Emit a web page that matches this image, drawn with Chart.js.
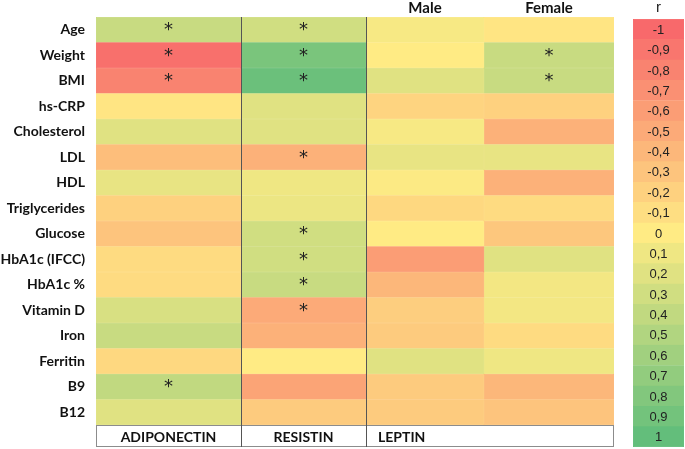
<!DOCTYPE html>
<html>
<head>
<meta charset="utf-8">
<script src="https://cdn.jsdelivr.net/npm/chart.js@4"></script>
<style>
  body { margin: 0; background: #fff; }
  #wrap { position: relative; width: 685px; height: 449px; }
  #heatBox { position: absolute; left: 0; top: 0; width: 622px; height: 449px; }
  #scaleBox { position: absolute; left: 622px; top: 0; width: 63px; height: 449px; }
</style>
</head>
<body>
<div id="wrap">
  <div id="heatBox"><canvas id="heatChart"></canvas></div>
  <div id="scaleBox"><canvas id="scaleChart"></canvas></div>
</div>
<script>
  // ----- data -----
  const rows = ['Age', 'Weight', 'BMI', 'hs-CRP', 'Cholesterol', 'LDL', 'HDL', 'Triglycerides',
    'Glucose', 'HbA1c (IFCC)', 'HbA1c %', 'Vitamin D', 'Iron', 'Ferritin', 'B9', 'B12'];

  const adiponectin = [0.35, -0.95, -0.8, -0.05, 0.2, -0.35, 0.15, -0.2, -0.3, -0.12, -0.12, 0.25, 0.35, -0.15, 0.4, 0.2];
  const resistin = [0.3, 0.85, 0.95, 0.2, 0.2, -0.45, 0.1, 0.12, 0.3, 0.3, 0.35, -0.5, -0.45, 0, -0.55, -0.25];
  const leptinMale = [0.05, 0, 0.2, -0.18, 0.05, 0.15, 0.02, -0.15, 0, -0.6, -0.4, -0.22, -0.25, 0.2, -0.25, -0.25];
  const leptinFemale = [-0.05, 0.35, 0.35, -0.2, -0.45, 0.15, -0.45, -0.12, -0.28, 0.2, 0.08, 0.08, -0.12, 0.1, -0.4, -0.3];

  // significant correlations (*)
  const adiponectinSig = [1, 1, 1, 0, 0, 0, 0, 0, 0, 0, 0, 0, 0, 0, 1, 0];
  const resistinSig = [1, 1, 1, 0, 0, 1, 0, 0, 1, 1, 1, 1, 0, 0, 0, 0];
  const leptinMaleSig = [0, 0, 0, 0, 0, 0, 0, 0, 0, 0, 0, 0, 0, 0, 0, 0];
  const leptinFemaleSig = [0, 1, 1, 0, 0, 0, 0, 0, 0, 0, 0, 0, 0, 0, 0, 0];

  const groupLabels = ['ADIPONECTIN', 'RESISTIN', 'LEPTIN'];
  const sexLabels = ['Male', 'Female'];

  const scaleLabels = ['-1', '-0,9', '-0,8', '-0,7', '-0,6', '-0,5', '-0,4', '-0,3', '-0,2', '-0,1', '0',
    '0,1', '0,2', '0,3', '0,4', '0,5', '0,6', '0,7', '0,8', '0,9', '1'];
  const scaleValues = [-1, -0.9, -0.8, -0.7, -0.6, -0.5, -0.4, -0.3, -0.2, -0.1, 0,
    0.1, 0.2, 0.3, 0.4, 0.5, 0.6, 0.7, 0.8, 0.9, 1];

  // ----- layout -----
  const colWidths = [145, 125, 118, 130];
  const colStarts = [0, 145, 270, 388];

  // red - yellow - green scale
  function rColor(v) {
    const mid = [255, 235, 132], end = v < 0 ? [248, 105, 107] : [99, 190, 123];
    const t = Math.min(1, Math.abs(v));
    const c = mid.map((x, i) => Math.round(x + (end[i] - x) * t));
    return 'rgb(' + c.join(',') + ')';
  }

  const series = [adiponectin, resistin, leptinMale, leptinFemale];
  const sigs = [adiponectinSig, resistinSig, leptinMaleSig, leptinFemaleSig];

  const datasets = series.map((vals, c) => ({
    data: vals.map(() => [colStarts[c], colStarts[c] + colWidths[c]]),
    backgroundColor: vals.map(rColor),
    borderColor: vals.map(rColor),
    borderWidth: 0.5,
    borderSkipped: false,
    barPercentage: 1,
    categoryPercentage: 1,
    grouped: false
  }));

  const boldFont = 'Lato, "Open Sans", sans-serif';

  const heatDecor = {
    id: 'heatDecor',
    afterDatasetsDraw(chart) {
      const { ctx, chartArea, scales } = chart;
      const x = scales.x, y = scales.y;
      ctx.save();
      // asterisks
      ctx.fillStyle = '#222';
      ctx.font = '18px "DejaVu Sans", sans-serif';
      ctx.textAlign = 'center';
      ctx.textBaseline = 'middle';
      sigs.forEach((sig, c) => {
        const cx = x.getPixelForValue(colStarts[c] + colWidths[c] / 2);
        sig.forEach((s, r) => {
          if (s) ctx.fillText('*', cx, y.getPixelForValue(r) + 1);
        });
      });
      // bottom box
      const boxTop = chartArea.bottom, boxBot = chartArea.bottom + 22;
      ctx.fillStyle = '#fff';
      ctx.fillRect(chartArea.left, boxTop, chartArea.right - chartArea.left, 22);
      ctx.strokeStyle = '#8c8c8c';
      ctx.lineWidth = 1;
      ctx.strokeRect(chartArea.left + 0.5, boxTop + 0.5, chartArea.right - chartArea.left - 1, 21);
      // group dividers
      ctx.strokeStyle = '#555';
      [1, 2].forEach(c => {
        const px = Math.round(x.getPixelForValue(colStarts[c])) + 0.5;
        ctx.beginPath();
        ctx.moveTo(px, chartArea.top);
        ctx.lineTo(px, boxBot);
        ctx.stroke();
      });
      // group labels
      ctx.fillStyle = '#111';
      ctx.font = 'bold 14px ' + boldFont;
      ctx.fillText(groupLabels[0], x.getPixelForValue(colStarts[0] + colWidths[0] / 2), boxTop + 12);
      ctx.fillText(groupLabels[1], x.getPixelForValue(colStarts[1] + colWidths[1] / 2), boxTop + 12);
      ctx.textAlign = 'left';
      ctx.fillText(groupLabels[2], x.getPixelForValue(colStarts[2]) + 12, boxTop + 12);
      // sex headers
      ctx.textAlign = 'center';
      ctx.font = 'bold 15px ' + boldFont;
      ctx.fillText(sexLabels[0], x.getPixelForValue(colStarts[2] + colWidths[2] / 2), chartArea.top - 9);
      ctx.fillText(sexLabels[1], x.getPixelForValue(colStarts[3] + colWidths[3] / 2), chartArea.top - 9);
      ctx.restore();
    }
  };

  new Chart(document.getElementById('heatChart'), {
    type: 'bar',
    data: { labels: rows, datasets: datasets },
    options: {
      indexAxis: 'y',
      responsive: true,
      maintainAspectRatio: false,
      animation: false,
      layout: { padding: { top: 17, bottom: 24, right: 8, left: 0 } },
      plugins: { legend: { display: false }, tooltip: { enabled: false } },
      scales: {
        x: { type: 'linear', min: 0, max: 518, display: false },
        y: {
          grid: { display: false },
          border: { display: false },
          ticks: { color: '#111', padding: 3, font: { family: boldFont, weight: 'bold', size: 14 } },
          afterFit(scale) { scale.width = 96; }
        }
      }
    },
    plugins: [heatDecor]
  });

  // ----- colour scale legend -----
  const scaleDecor = {
    id: 'scaleDecor',
    afterDatasetsDraw(chart) {
      const { ctx, chartArea, scales } = chart;
      ctx.save();
      ctx.fillStyle = '#222';
      ctx.textAlign = 'center';
      ctx.textBaseline = 'middle';
      const cx = (chartArea.left + chartArea.right) / 2;
      ctx.font = '13px "Liberation Sans Narrow", "Liberation Sans", sans-serif';
      scaleLabels.forEach((t, i) => ctx.fillText(t, cx, scales.y.getPixelForValue(i) + 1));
      ctx.font = '15px "Liberation Sans Narrow", "Liberation Sans", sans-serif';
      ctx.fillText('r', cx, 8);
      ctx.restore();
    }
  };

  new Chart(document.getElementById('scaleChart'), {
    type: 'bar',
    data: {
      labels: scaleLabels,
      datasets: [{
        data: scaleValues.map(() => [0, 1]),
        backgroundColor: scaleValues.map(rColor),
        borderColor: scaleValues.map(rColor),
        borderWidth: 0.5,
        borderSkipped: false,
        barPercentage: 1,
        categoryPercentage: 1
      }]
    },
    options: {
      indexAxis: 'y',
      responsive: true,
      maintainAspectRatio: false,
      animation: false,
      layout: { padding: { top: 19, bottom: 2, left: 11, right: 1 } },
      plugins: { legend: { display: false }, tooltip: { enabled: false } },
      scales: {
        x: { type: 'linear', min: 0, max: 1, display: false },
        y: { display: false }
      }
    },
    plugins: [scaleDecor]
  });
</script>
</body>
</html>
